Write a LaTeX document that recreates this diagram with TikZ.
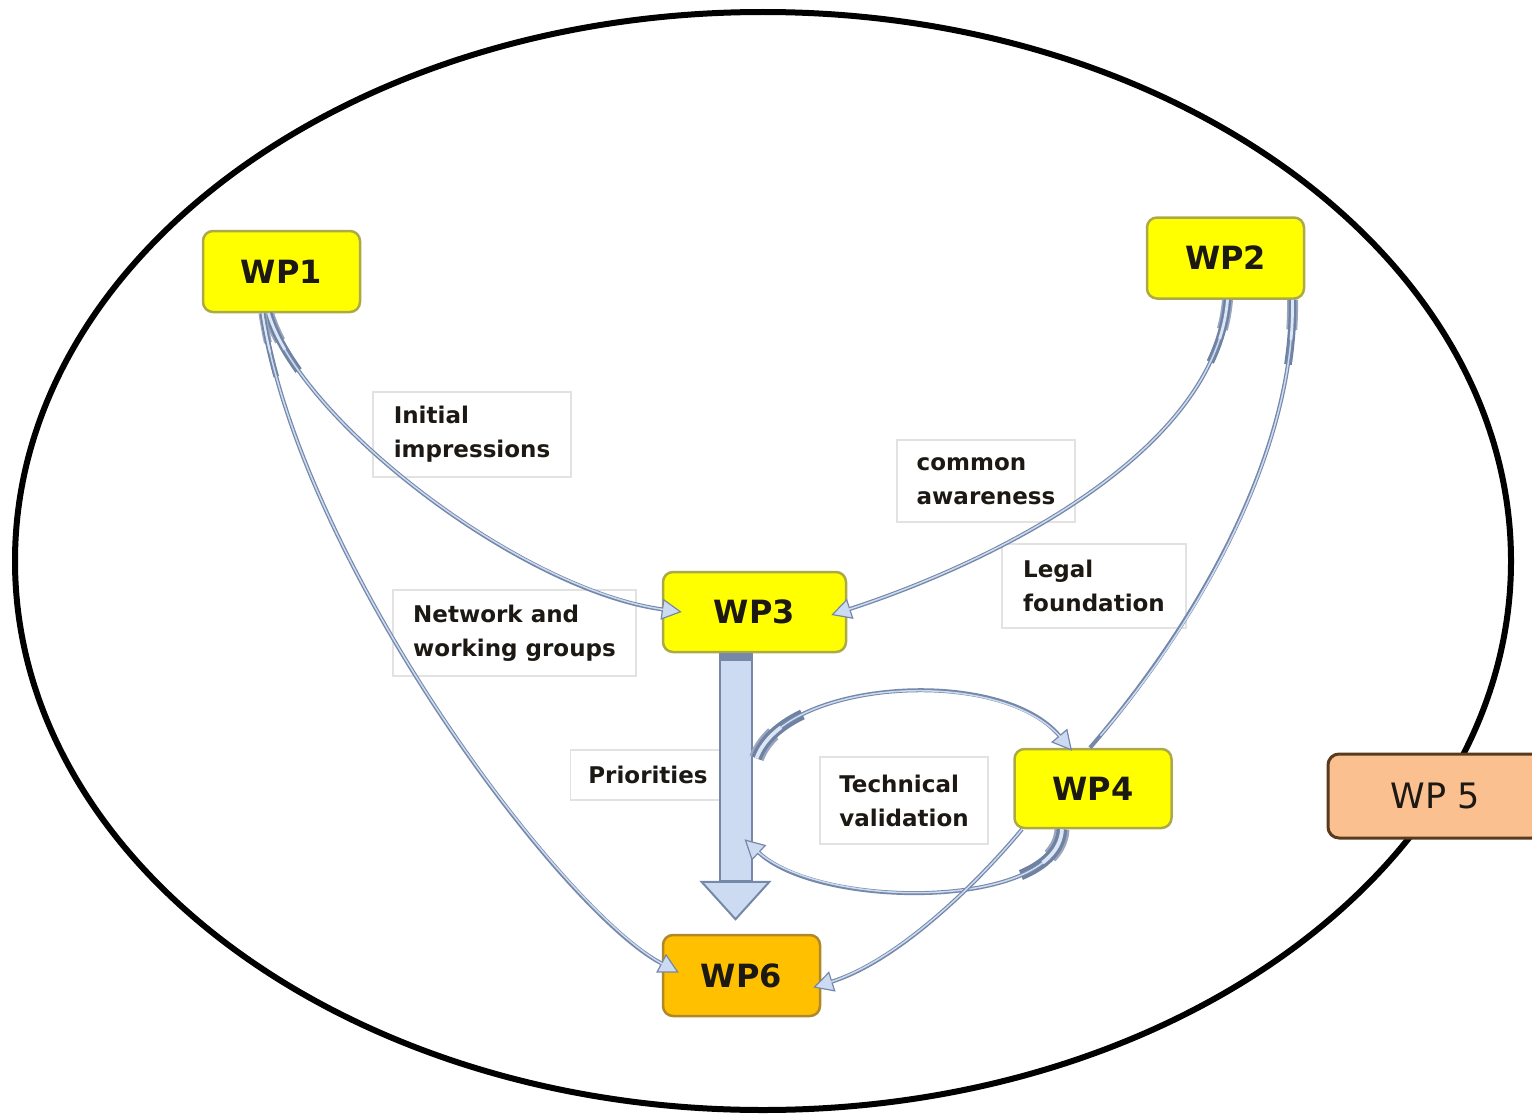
\documentclass[tikz,border=0pt]{standalone}
\usepackage{fontspec}
\setmainfont{DejaVu Sans}
\usetikzlibrary{arrows.meta,calc}
\definecolor{edgec}{RGB}{118,136,168}
\definecolor{edgedark}{RGB}{112,130,162}
\definecolor{fillc}{RGB}{205,219,242}
\definecolor{wpyellow}{RGB}{255,255,0}
\definecolor{wpyborder}{RGB}{172,170,72}
\definecolor{wporange}{RGB}{255,192,0}
\definecolor{wpoborder}{RGB}{176,136,42}
\definecolor{wppeach}{RGB}{250,192,144}
\definecolor{wpbrown}{RGB}{88,58,30}
\definecolor{lblborder}{RGB}{226,226,226}
\definecolor{txt}{RGB}{28,24,20}
\begin{document}
\begin{tikzpicture}[x=1pt,y=-1pt,
  wpbox/.style={draw=wpyborder, fill=wpyellow, line width=2.5pt, rounded corners=10pt,
    minimum width=157pt, minimum height=81pt, inner sep=0pt, text=txt,
    font=\fontsize{32}{32}\selectfont\bfseries},
  lbl/.style={draw=lblborder, fill=white, line width=1.5pt, align=left, inner sep=0pt,
    text=txt, font=\fontsize{23}{34}\selectfont\bfseries},
  conn/.style={draw=edgec, line width=4pt,
    -{Triangle[length=20pt,width=21pt,fill=fillc,line width=1.2pt]},
    postaction={draw=fillc, line width=1.5pt, -, shorten >=16pt}},
  taper/.style={
    preaction={draw=edgedark!70, line width=#1, dash pattern=on 30pt off 5000pt, -},
    preaction={draw=edgedark, line width=0.7*#1, dash pattern=on 65pt off 5000pt, -},
    postaction={draw=fillc!70!white, line width=0.25*#1, dash pattern=on 40pt off 5000pt, -}},
  taper/.default=11pt,
  bigarrow/.style={draw=edgec, line width=34pt,
    -{Triangle[length=40pt,width=72pt,fill=fillc,line width=2pt]},
    postaction={draw=fillc, line width=30pt, -, shorten >=41pt, shorten <=8pt}}
]
\useasboundingbox (0,0) rectangle (1532,1116);

% outer ellipse
\draw[line width=6pt] (763,561) ellipse [x radius=748, y radius=549];

% label boxes
\node[lbl, minimum width=198pt, minimum height=85pt] (l1) at (472,434.5) {Initial\\impressions};
\node[lbl, minimum width=178pt, minimum height=82pt] (l2) at (986,481) {common\\awareness};
\node[lbl, minimum width=184pt, minimum height=84pt] (l3) at (1094,586) {Legal\\foundation};
\node[lbl, minimum width=243pt, minimum height=86pt] (l4) at (514.5,633) {Network and\\working groups};
\node[lbl, minimum width=155pt, minimum height=50pt] (l5) at (648,775) {Priorities};
\node[lbl, minimum width=168pt, minimum height=87pt] (l6) at (904,800.5) {Technical\\validation};

% work package boxes
\node[wpbox] (wp1) at (281.5,271.5) {WP1};
\node[wpbox] (wp2) at (1225.5,258) {WP2};
\node[wpbox, minimum width=183pt, minimum height=80pt] (wp3) at (754.5,612) {WP3};
\node[wpbox, minimum height=79pt] (wp4) at (1093,788.5) {WP4};
\node[wpbox, draw=wpoborder, fill=wporange] (wp6) at (741.5,975.5) {WP6};
\node[draw=wpbrown, fill=wppeach, line width=3pt, rounded corners=11pt,
      minimum width=215pt, minimum height=84pt, inner sep=0pt, text=txt,
      font=\fontsize{35}{35}\selectfont] (wp5) at (1435.5,796) {WP 5};

% big arrow WP3 -> WP6
\draw[bigarrow] ($(wp3.south)+(-19,0)$) -- ($(wp6.north)+(-6,-13)$);
\coordinate (loopout) at ($(wp3.south)+(2,105)$);
\coordinate (loopin) at ($(wp3.south)+(-10,186)$);

% curved connectors
\draw[conn, taper] ($(wp1.south)+(-13,0)$) .. controls (300,420) and (520,590) .. ($(wp3.west)+(20,0)$);
\draw[conn, taper=8pt] ($(wp1.south)+(-19,0)$) .. controls (300,560) and (560,910) .. ($(wp6.west)+(17,-3)$);
\draw[conn, taper] ($(wp2.south)+(2,0)$) .. controls (1215,450) and (1000,560) .. ($(wp3.east)+(-16,3)$);
\draw[conn, taper, -] ($(wp2.south)+(67,0)$) .. controls (1295,450) and (1200,620) .. ($(wp4.north)+(-3,0)$);
\draw[conn, taper=15pt] (loopout) .. controls (785,680) and (1000,665) .. ($(wp4.north)+(-21,3)$);
\draw[conn, taper=15pt] ($(wp4.south)+(-31,0)$) .. controls (1058,910) and (820,910) .. (loopin);
\draw[conn] ($(wp4.south)+(-71,0)$) .. controls (980,880) and (900,960) .. ($(wp6.east)+(-8,12)$);
\end{tikzpicture}
\end{document}
